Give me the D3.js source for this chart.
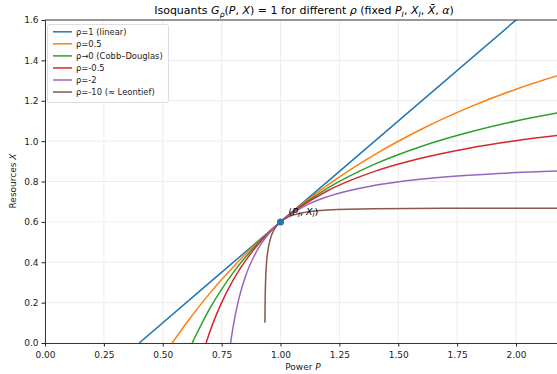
<!DOCTYPE html>
<html>
<head>
<meta charset="utf-8">
<script src="https://cdn.jsdelivr.net/npm/d3@7"></script>
<style>
body { margin: 0; background: #fff; }
svg { display: block; font-family: "DejaVu Sans", sans-serif; }
</style>
</head>
<body>
<div id="chart"></div>
<script>
// legend labels and colours (matplotlib tab10)
var labels = ["ρ=1 (linear)", "ρ=0.5", "ρ→0 (Cobb–Douglas)", "ρ=-0.5", "ρ=-2", "ρ=-10 (≈ Leontief)"];
var colors = ["#1f77b4", "#ff7f0e", "#2ca02c", "#d62728", "#9467bd", "#8c564b"];

// isoquant points (P, X)
var linP = [0.4, 1.0, 2.2];
var linX = [0.0, 0.6, 1.8];
var halfP = [0.54, 0.6, 0.7, 0.8, 0.9, 1.0, 1.2, 1.4, 1.6, 1.8, 2.0, 2.2];
var halfX = [0.0, 0.098, 0.247, 0.378, 0.495, 0.6, 0.782, 0.933, 1.060, 1.167, 1.257, 1.333];
var cdP = [0.625, 0.7, 0.8, 0.9, 1.0, 1.2, 1.4, 1.6, 1.8, 2.0, 2.2];
var cdX = [0.0, 0.171, 0.35, 0.489, 0.6, 0.767, 0.886, 0.975, 1.044, 1.1, 1.145];
var negHalfP = [0.684, 0.7, 0.75, 0.8, 0.9, 1.0, 1.2, 1.4, 1.6, 1.8, 2.0, 2.2];
var negHalfX = [0.0, 0.056, 0.200, 0.314, 0.482, 0.6, 0.754, 0.850, 0.916, 0.965, 1.002, 1.031];
var neg2P = [0.788, 0.8, 0.82, 0.85, 0.9, 0.95, 1.0, 1.1, 1.2, 1.4, 1.6, 1.8, 2.0, 2.2];
var neg2X = [0.0, 0.088, 0.204, 0.326, 0.457, 0.541, 0.6, 0.677, 0.725, 0.781, 0.812, 0.831, 0.844, 0.853];
var neg10P = [0.9338, 0.9345, 0.935, 0.937, 0.94, 0.945, 0.95, 0.96, 0.97, 0.985, 1.0, 1.03, 1.06, 1.1, 1.2, 1.4, 1.7, 2.2];
var neg10X = [0.1, 0.185, 0.226, 0.317, 0.386, 0.446, 0.483, 0.527, 0.555, 0.582, 0.6, 0.623, 0.636, 0.647, 0.659, 0.665, 0.667, 0.667];

var seriesP = [linP, halfP, cdP, negHalfP, neg2P, neg10P];
var seriesX = [linX, halfX, cdX, negHalfX, neg2X, neg10X];

var xTicks = [0, 0.25, 0.5, 0.75, 1.0, 1.25, 1.5, 1.75, 2.0];
var yTicks = [0, 0.2, 0.4, 0.6, 0.8, 1.0, 1.2, 1.4, 1.6];
var refPoint = [1.0, 0.6];

var width = 557, height = 374;
var mLeft = 45, mTop = 20, mBottom = 343;

var svg = d3.select("#chart").append("svg").attr("width", width).attr("height", height);

var x = d3.scaleLinear().domain([0, 2.2]).range([mLeft, mLeft + 2.2 * 235.5]);
var y = d3.scaleLinear().domain([0, 1.6]).range([mBottom, mTop]);

// grid
svg.append("g").selectAll("line").data(xTicks).enter().append("line")
  .attr("x1", function(d) { return x(d); }).attr("x2", function(d) { return x(d); })
  .attr("y1", mTop).attr("y2", mBottom)
  .attr("stroke", "#e8e8e8").attr("stroke-width", 0.8);
svg.append("g").selectAll("line").data(yTicks).enter().append("line")
  .attr("x1", mLeft).attr("x2", x(2.2))
  .attr("y1", function(d) { return y(d); }).attr("y2", function(d) { return y(d); })
  .attr("stroke", "#e8e8e8").attr("stroke-width", 0.8);

// clip
svg.append("clipPath").attr("id", "clip").append("rect")
  .attr("x", mLeft).attr("y", mTop).attr("width", x(2.2) - mLeft).attr("height", mBottom - mTop);

var line = d3.line()
  .x(function(d) { return x(d[0]); })
  .y(function(d) { return y(d[1]); })
  .curve(d3.curveMonotoneX);

var plot = svg.append("g").attr("clip-path", "url(#clip)");
seriesP.forEach(function(ps, i) {
  var pts = ps.map(function(p, j) { return [p, seriesX[i][j]]; });
  plot.append("path").datum(pts)
    .attr("d", line)
    .attr("fill", "none")
    .attr("stroke", colors[i])
    .attr("stroke-width", 1.5);
});

// reference point
svg.append("circle").attr("cx", x(refPoint[0])).attr("cy", y(refPoint[1])).attr("r", 3.5).attr("fill", "#1f77b4");

function mathText(sel, parts, size) {
  parts.forEach(function(p) {
    var t = sel.append("tspan").text(p.t);
    if (p.i) t.attr("font-style", "italic");
    if (p.sub) t.attr("dy", size * 0.25).attr("font-size", size * 0.7);
    else if (p.back) t.attr("dy", -size * 0.25);
  });
}

var lbl = svg.append("text").attr("x", x(1.0) + 8).attr("y", y(0.6) - 7)
  .attr("font-size", 9.5).attr("fill", "#000");
mathText(lbl, [
  {t: "("}, {t: "P", i: true}, {t: "I", i: true, sub: true},
  {t: ", ", back: true}, {t: "X", i: true}, {t: "I", i: true, sub: true}, {t: ")", back: true}
], 9.5);

// axes
svg.append("g").attr("transform", "translate(0," + mBottom + ")")
  .call(d3.axisBottom(x).tickValues(xTicks).tickFormat(d3.format(".2f")).tickSize(3.5).tickSizeOuter(0))
  .call(function(g) {
    g.select(".domain").attr("stroke", "#222").attr("stroke-width", 0.9);
    g.selectAll(".tick line").attr("stroke", "#222");
    g.selectAll("text").attr("font-size", 9).attr("fill", "#222").attr("font-family", "DejaVu Sans").attr("dy", "0.95em");
  });
svg.append("g").attr("transform", "translate(" + mLeft + ",0)")
  .call(d3.axisLeft(y).tickValues(yTicks).tickFormat(d3.format(".1f")).tickSize(3.5).tickSizeOuter(0))
  .call(function(g) {
    g.select(".domain").attr("stroke", "#222").attr("stroke-width", 0.9);
    g.selectAll(".tick line").attr("stroke", "#222");
    g.selectAll("text").attr("font-size", 9).attr("fill", "#222").attr("font-family", "DejaVu Sans");
  });
// top spine
svg.append("line").attr("x1", mLeft).attr("x2", width).attr("y1", mTop).attr("y2", mTop)
  .attr("stroke", "#222").attr("stroke-width", 0.9);

// axis labels
var xl = svg.append("text").attr("x", 303).attr("y", 370).attr("text-anchor", "middle")
  .attr("font-size", 9).attr("fill", "#222");
mathText(xl, [{t: "Power "}, {t: "P", i: true}], 9);
var yl = svg.append("text").attr("transform", "translate(16,181) rotate(-90)").attr("text-anchor", "middle")
  .attr("font-size", 9).attr("fill", "#222");
mathText(yl, [{t: "Resources "}, {t: "X", i: true}], 9);

// title
var title = svg.append("text").attr("x", 304).attr("y", 14).attr("text-anchor", "middle")
  .attr("font-size", 11).attr("fill", "#000");
mathText(title, [
  {t: "Isoquants "}, {t: "G", i: true}, {t: "ρ", i: true, sub: true},
  {t: "(", back: true}, {t: "P", i: true}, {t: ", "}, {t: "X", i: true},
  {t: ") = 1 for different "}, {t: "ρ", i: true}, {t: " (fixed "},
  {t: "P", i: true}, {t: "I", i: true, sub: true}, {t: ", ", back: true},
  {t: "X", i: true}, {t: "I", i: true, sub: true}, {t: ", ", back: true},
  {t: "X\u0304", i: true}, {t: ", "}, {t: "α", i: true}, {t: ")"}
], 11);

// legend
var lg = svg.append("g");
lg.append("rect").attr("x", 47.5).attr("y", 24.5).attr("width", 121).attr("height", 78).attr("rx", 2)
  .attr("fill", "#fff").attr("fill-opacity", 0.8).attr("stroke", "#d5d5d5").attr("stroke-width", 0.8);
labels.forEach(function(l, i) {
  var cy = 31.8 + i * 12.05;
  lg.append("line").attr("x1", 53).attr("x2", 72).attr("y1", cy).attr("y2", cy)
    .attr("stroke", colors[i]).attr("stroke-width", 1.5);
  lg.append("text").attr("x", 76).attr("y", cy + 3).attr("font-size", 8.4).attr("fill", "#222").text(l);
});
</script>
</body>
</html>
